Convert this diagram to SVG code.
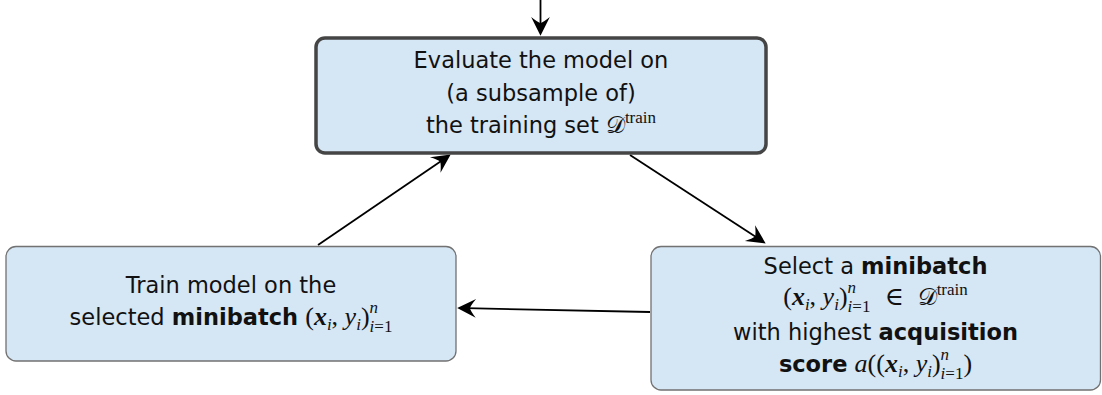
<svg xmlns="http://www.w3.org/2000/svg" width="1102" height="395" viewBox="0 0 1102 395">
<defs>
<style>
.box{fill:#d5e6f4;stroke:#727272;stroke-width:1.3}
.main{fill:#d5e6f4;stroke:#454545;stroke-width:3.5}
.t{font-family:"DejaVu Sans",sans-serif;font-size:22.5px;fill:#111;text-anchor:middle}
.b{font-weight:bold}
.m{font-family:"Liberation Serif","DejaVu Serif",serif;font-style:italic;font-size:26px}
.mr{font-family:"Liberation Serif","DejaVu Serif",serif;font-style:normal;font-size:26px}
.bx{font-family:"Liberation Serif","DejaVu Serif",serif;font-style:italic;font-weight:bold;font-size:26px}
.sup{font-family:"Liberation Serif","DejaVu Serif",serif;font-style:italic;font-size:17px}
.supr{font-family:"Liberation Serif","DejaVu Serif",serif;font-style:normal;font-size:17px}
.cal{font-family:"DejaVu Serif","DejaVu Sans",serif;font-style:normal;font-size:24px}
.edge{stroke:#000;stroke-width:1.8;fill:none;marker-end:url(#ah)}
</style>
<marker id="ah" markerUnits="userSpaceOnUse" markerWidth="22" markerHeight="22" viewBox="-18 -10 20 20" refX="-8" refY="0" orient="auto">
<path d="M0,0 L-17,-8.5 Q-12.5,-3 -11.5,0 Q-12.5,3 -17,8.5 Z" fill="#000"/>
</marker>
</defs>

<g id="connectors">
<line class="edge" x1="540.5" y1="0" x2="540.5" y2="27"/>
<line class="edge" x1="318" y1="245" x2="443.4" y2="159.5"/>
<line class="edge" x1="630" y1="155" x2="758.3" y2="238.6"/>
<line class="edge" x1="650" y1="312" x2="466" y2="308.2"/>
</g>

<g id="evaluate">
<rect class="main" x="316" y="38" width="450" height="115" rx="9"/>
<text class="t" x="541" y="68">Evaluate the model on</text>
<text class="t" x="541" y="101">(a subsample of)</text>
<text class="t" x="541" y="133">the training set <tspan class="cal">𝒟</tspan><tspan class="supr" dy="-10">train</tspan></text>
</g>

<g id="train">
<rect class="box" x="6" y="246.5" width="450" height="114.5" rx="10"/>
<text class="t" x="231" y="293">Train model on the</text>
<text class="t" x="231" y="325">selected <tspan class="b">minibatch</tspan> <tspan class="mr">(</tspan><tspan class="bx">x</tspan><tspan class="sup" dy="5">i</tspan><tspan class="mr" dy="-5">, </tspan><tspan class="m">y</tspan><tspan class="sup" dy="5">i</tspan><tspan class="mr" dy="-5">)</tspan><tspan class="sup" dy="-12">n</tspan><tspan class="sup" dx="-8.5" dy="19">i</tspan><tspan class="supr">=1</tspan></text>
</g>

<g id="select">
<rect class="box" x="651" y="246.5" width="449.5" height="143.5" rx="10"/>
<text class="t" x="875.5" y="274">Select a <tspan class="b">minibatch</tspan></text>
<text class="t" x="875.5" y="305"><tspan class="mr">(</tspan><tspan class="bx">x</tspan><tspan class="sup" dy="5">i</tspan><tspan class="mr" dy="-5">, </tspan><tspan class="m">y</tspan><tspan class="sup" dy="5">i</tspan><tspan class="mr" dy="-5">)</tspan><tspan class="sup" dy="-12">n</tspan><tspan class="sup" dx="-8.5" dy="19">i</tspan><tspan class="supr">=1</tspan><tspan class="mr" dx="14" dy="-7">∈</tspan><tspan class="cal" dx="14">𝒟</tspan><tspan class="supr" dy="-10">train</tspan></text>
<text class="t" x="875.5" y="340">with highest <tspan class="b">acquisition</tspan></text>
<text class="t" x="875.5" y="372"><tspan class="b">score</tspan> <tspan class="m">a</tspan><tspan class="mr">((</tspan><tspan class="bx">x</tspan><tspan class="sup" dy="5">i</tspan><tspan class="mr" dy="-5">, </tspan><tspan class="m">y</tspan><tspan class="sup" dy="5">i</tspan><tspan class="mr" dy="-5">)</tspan><tspan class="sup" dy="-12">n</tspan><tspan class="sup" dx="-8.5" dy="19">i</tspan><tspan class="supr">=1</tspan><tspan class="mr" dy="-7">)</tspan></text>
</g>
</svg>
